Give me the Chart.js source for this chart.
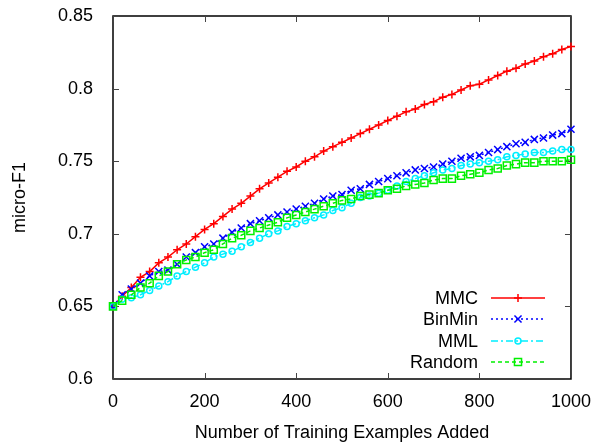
<!DOCTYPE html>
<html>
<head>
<meta charset="utf-8">
<script src="https://cdn.jsdelivr.net/npm/chart.js@4/dist/chart.umd.min.js"></script>
<style>
  html, body { margin: 0; padding: 0; background: #fff; }
  #wrap { width: 595px; height: 443px; }
</style>
</head>
<body>
<div id="wrap"><canvas id="f1Chart"></canvas></div>
<script>
// examples added (x axis)
const examplesAdded = [0, 20, 40, 60, 80, 100, 120, 140, 160, 180, 200, 220, 240, 260, 280, 300, 320, 340, 360, 380,
    400, 420, 440, 460, 480, 500, 520, 540, 560, 580, 600, 620, 640, 660, 680, 700, 720, 740, 760, 780,
    800, 820, 840, 860, 880, 900, 920, 940, 960, 980, 1000];

const mmcValues = [0.650, 0.657, 0.663, 0.670, 0.674, 0.680, 0.684, 0.689, 0.693, 0.698, 0.703, 0.707, 0.712, 0.717,
    0.721, 0.726, 0.731, 0.735, 0.739, 0.743, 0.746, 0.750, 0.753, 0.757, 0.760, 0.763, 0.766, 0.769, 0.772,
    0.775, 0.778, 0.781, 0.784, 0.786, 0.789, 0.791, 0.794, 0.796, 0.799, 0.802, 0.803, 0.806, 0.809, 0.812,
    0.814, 0.817, 0.819, 0.822, 0.824, 0.827, 0.829];

const binMinValues = [0.650, 0.658, 0.662, 0.666, 0.671, 0.674, 0.675, 0.679, 0.684, 0.687, 0.691, 0.693, 0.697, 0.701,
    0.704, 0.707, 0.709, 0.711, 0.713, 0.715, 0.717, 0.719, 0.721, 0.724, 0.726, 0.727, 0.730, 0.731, 0.734,
    0.736, 0.738, 0.740, 0.742, 0.744, 0.745, 0.746, 0.748, 0.750, 0.752, 0.753, 0.754, 0.756, 0.758, 0.760,
    0.762, 0.763, 0.765, 0.766, 0.768, 0.769, 0.772];

const mmlValues = [0.650, 0.655, 0.656, 0.658, 0.661, 0.664, 0.667, 0.671, 0.674, 0.677, 0.680, 0.684, 0.686, 0.688,
    0.691, 0.694, 0.697, 0.700, 0.702, 0.705, 0.707, 0.709, 0.711, 0.713, 0.716, 0.718, 0.721, 0.725, 0.726,
    0.728, 0.730, 0.733, 0.736, 0.738, 0.740, 0.742, 0.744, 0.745, 0.747, 0.748, 0.749, 0.750, 0.751, 0.753,
    0.754, 0.755, 0.756, 0.756, 0.757, 0.758, 0.758];

const randomValues = [0.650, 0.654, 0.658, 0.663, 0.666, 0.671, 0.674, 0.679, 0.682, 0.684, 0.687, 0.689, 0.693, 0.697,
    0.699, 0.702, 0.704, 0.706, 0.708, 0.711, 0.713, 0.715, 0.717, 0.719, 0.721, 0.723, 0.724, 0.726, 0.727,
    0.728, 0.730, 0.731, 0.733, 0.734, 0.735, 0.737, 0.738, 0.738, 0.740, 0.741, 0.742, 0.744, 0.745, 0.747,
    0.748, 0.749, 0.749, 0.750, 0.750, 0.750, 0.751];

const seriesNames = ['MMC', 'BinMin', 'MML', 'Random'];
const seriesColors = ['#ff0000', '#0000ff', '#00eeff', '#00f000'];
const seriesMarkers = ['cross', 'crossRot', 'circle', 'rect'];
const seriesDashes = [[], [2, 3], [7, 3, 2, 3], [4, 3]];
const seriesValues = [mmcValues, binMinValues, mmlValues, randomValues];

const fontFamily = '"Liberation Sans", Arial, Helvetica, sans-serif';
const markerRadius = { cross: 4, crossRot: 5, circle: 3, rect: 5 };

function toPoints(values) {
    return examplesAdded.map((x, i) => ({ x: x, y: values[i] }));
}

// small marker drawer for the legend samples
function drawMarker(ctx, style, x, y, r) {
    ctx.beginPath();
    if (style === 'cross') {
        ctx.moveTo(x - r, y); ctx.lineTo(x + r, y);
        ctx.moveTo(x, y - r); ctx.lineTo(x, y + r);
    } else if (style === 'crossRot') {
        const d = r * Math.SQRT1_2;
        ctx.moveTo(x - d, y - d); ctx.lineTo(x + d, y + d);
        ctx.moveTo(x - d, y + d); ctx.lineTo(x + d, y - d);
    } else if (style === 'circle') {
        ctx.arc(x, y, r, 0, Math.PI * 2);
    } else {
        const s = r * Math.SQRT1_2;
        ctx.rect(x - s, y - s, 2 * s, 2 * s);
    }
    ctx.stroke();
}

// gnuplot style box with inward ticks on all four sides
const framePlugin = {
    id: 'frame',
    beforeDatasetsDraw(chart) {
        const { ctx, chartArea: a, scales } = chart;
        ctx.save();
        ctx.strokeStyle = '#000';
        ctx.lineWidth = 1.5;
        ctx.strokeRect(a.left, a.top, a.right - a.left, a.bottom - a.top);
        ctx.lineWidth = 1;
        ctx.strokeStyle = '#444';
        const tick = 6;
        ctx.beginPath();
        scales.x.ticks.forEach(t => {
            const px = Math.round(scales.x.getPixelForValue(t.value)) + 0.5;
            ctx.moveTo(px, a.bottom); ctx.lineTo(px, a.bottom - tick);
            ctx.moveTo(px, a.top); ctx.lineTo(px, a.top + tick);
        });
        scales.y.ticks.forEach(t => {
            const py = Math.round(scales.y.getPixelForValue(t.value)) + 0.5;
            ctx.moveTo(a.left, py); ctx.lineTo(a.left + tick, py);
            ctx.moveTo(a.right, py); ctx.lineTo(a.right - tick, py);
        });
        ctx.stroke();
        ctx.restore();
    },
    afterDraw(chart) {
        const ctx = chart.ctx;
        const textRight = 478;
        const lineStart = 491;
        const lineEnd = 545;
        const rowY = [298, 319, 341, 362];
        ctx.save();
        ctx.font = '18px ' + fontFamily;
        ctx.textAlign = 'right';
        ctx.textBaseline = 'middle';
        seriesNames.forEach((name, i) => {
            const y = rowY[i];
            ctx.fillStyle = '#000';
            ctx.fillText(name, textRight, y + 1);
            ctx.strokeStyle = seriesColors[i];
            ctx.lineWidth = 1.5;
            ctx.setLineDash(seriesDashes[i]);
            ctx.beginPath();
            ctx.moveTo(lineStart, y); ctx.lineTo(lineEnd, y);
            ctx.stroke();
            ctx.setLineDash([]);
            drawMarker(ctx, seriesMarkers[i], (lineStart + lineEnd) / 2, y, markerRadius[seriesMarkers[i]]);
        });
        ctx.restore();
    }
};

const datasets = seriesNames.map((name, i) => ({
    label: name,
    data: toPoints(seriesValues[i]),
    borderColor: seriesColors[i],
    borderWidth: 1.5,
    borderDash: seriesDashes[i],
    pointStyle: seriesMarkers[i],
    pointRadius: markerRadius[seriesMarkers[i]],
    pointBorderColor: seriesColors[i],
    pointBackgroundColor: 'rgba(0,0,0,0)',
    pointBorderWidth: 1.5,
    tension: 0,
    fill: false,
    clip: false,
    order: seriesNames.length - i
}));

const ctx = document.getElementById('f1Chart').getContext('2d');
new Chart(ctx, {
    type: 'line',
    data: { datasets: datasets },
    options: {
        responsive: true,
        maintainAspectRatio: false,
        animation: false,
        layout: { padding: { top: 16, right: 23, left: 0, bottom: 0 } },
        plugins: {
            legend: { display: false },
            tooltip: { enabled: false }
        },
        scales: {
            x: {
                type: 'linear',
                min: 0,
                max: 1000,
                grid: { display: false },
                border: { display: false },
                ticks: {
                    stepSize: 200,
                    color: '#000',
                    padding: 4,
                    maxRotation: 0,
                    font: { family: fontFamily, size: 18 },
                    callback: v => String(v)
                },
                title: {
                    display: true,
                    text: 'Number of Training Examples Added',
                    color: '#000',
                    padding: { top: 0, bottom: -1 },
                    font: { family: fontFamily, size: 18 }
                },
                afterFit(scale) { scale.height = 64; }
            },
            y: {
                min: 0.6,
                max: 0.85,
                grid: { display: false },
                border: { display: false },
                ticks: {
                    stepSize: 0.05,
                    color: '#000',
                    padding: 12,
                    font: { family: fontFamily, size: 18 },
                    callback: v => String(Number(v.toFixed(2)))
                },
                title: {
                    display: true,
                    text: 'micro-F1',
                    color: '#000',
                    padding: { top: 9, bottom: 0 },
                    font: { family: fontFamily, size: 18 }
                },
                afterFit(scale) {
                    scale.width = 113;
                    scale.paddingTop = 0;
                    scale.paddingBottom = 0;
                }
            }
        }
    },
    plugins: [framePlugin]
});
</script>
</body>
</html>
